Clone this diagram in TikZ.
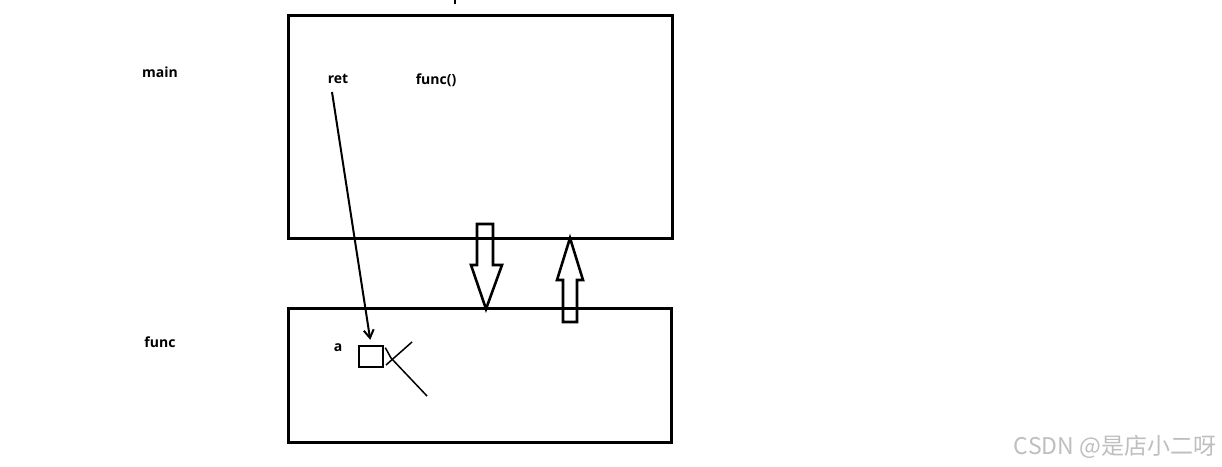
\documentclass[tikz,border=0pt]{standalone}
\usepackage{fontspec}
\setmainfont{Open Sans}
\newfontfamily\cjk{Noto Sans CJK SC}
\usetikzlibrary{arrows}
\usetikzlibrary{arrows.meta}
\definecolor{markgray}{RGB}{190,190,190}
\tikzset{frame/.style={draw,line width=3pt,inner sep=0pt},
  lbl/.style={font=\bfseries\fontsize{14}{16}\selectfont,inner sep=0pt},
  hollow/.style={draw,line width=2.6pt,line join=miter}}
\begin{document}
\begin{tikzpicture}[x=1pt,y=-1pt]
\useasboundingbox (0,0) rectangle (1222,466);
% frames
\node[frame,minimum width=384pt,minimum height=223pt] (mainbox) at (480,126.5) {};
\node[frame,minimum width=383pt,minimum height=134pt] (funcbox) at (479.5,375) {};
\node[frame,line width=2.6pt,minimum width=24pt,minimum height=21pt] (cell) at (371,356.5) {};
% labels
\node[lbl] (lmain) at (160,72) {main};
\node[lbl] (lfunc) at (160,342) {func};
\node[lbl] (lret) at (338,79) {ret};
\node[lbl] (lcall) at (436,80) {func()};
\node[lbl] (la) at (338,348) {a};
\draw[line width=1.5pt] (455,0) -- (455,4);
% pointer from ret to a
\coordinate (rstart) at (332,92);
\path[line width=2pt] (rstart) edge [arrows={-Straight Barb[length=8pt,width=10pt]},shorten >=5pt] (cell.north);
% crossed out
\draw[line width=1.5pt] (cell.north east) ++(1,3) -- (391,358) -- (427,396);
\draw[line width=1.5pt] (386,365) -- (412,342);
% call and return arrows
\draw[hollow] (477,224) -- (493,224) -- (493,265) -- (502,265) -- (486,309)
  -- (471,265) -- (477,265) -- cycle;
\draw[hollow] (563,322) -- (577,322) -- (577,280) -- (583,280) -- (570,238)
  -- (557,280) -- (563,280) -- cycle;
\node[text=markgray,font=\cjk\fontsize{23}{26}\selectfont,inner sep=0pt] (wm) at (1115,447) {CSDN @是店小二呀};
\end{tikzpicture}
\end{document}
